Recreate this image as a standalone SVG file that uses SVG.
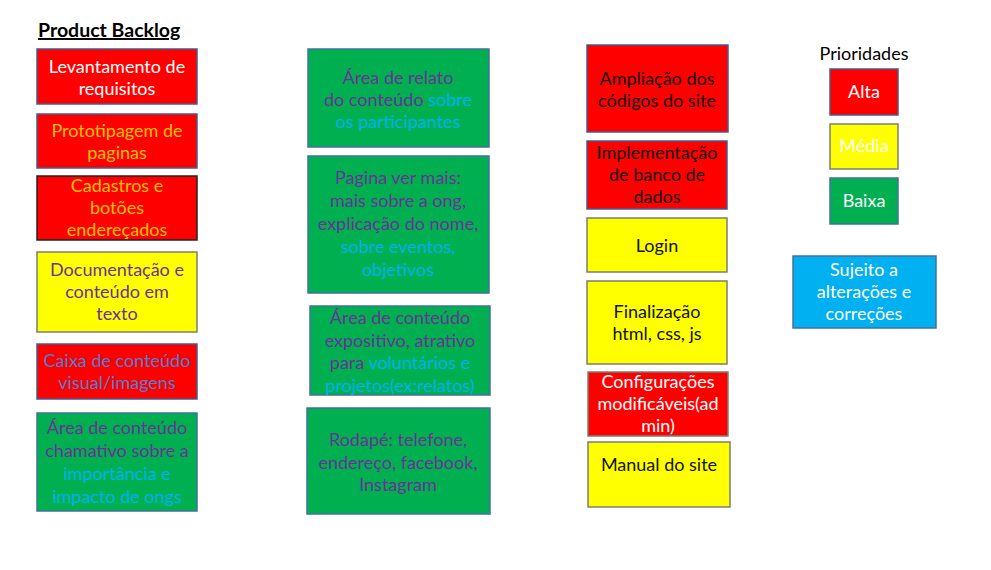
<svg xmlns="http://www.w3.org/2000/svg" width="991" height="570" viewBox="0 0 991 570">
<style>
text{font-family:"Lato","Open Sans","Liberation Sans",sans-serif;font-size:18px;text-anchor:middle}
.r{fill:#FF0000;stroke:#4A5A8A;stroke-width:1.5}
.y{fill:#FFFF00;stroke:#7A7F70;stroke-width:1.5}
.g{fill:#00B050;stroke:#41719C;stroke-width:1.5}
.b{fill:#00B0F0;stroke:#41719C;stroke-width:1.5}
.w{fill:#FFFFFF}.o{fill:#FFC000}.p{fill:#6A3298}.c{fill:#00B0F0}.k{fill:#111111}.bl{fill:#4F7FD0}
</style>
<rect width="991" height="570" fill="#FFFFFF"/>
<text x="38" y="37" style="text-anchor:start;font-weight:bold;font-size:19.5px;text-decoration:underline" fill="#000">Product Backlog</text>

<g id="n1"><rect class="r" x="37" y="49" width="160" height="55"/><text class="w" x="117" y="73">Levantamento de<tspan x="117" dy="22">requisitos</tspan></text></g>
<g id="n2"><rect class="r" x="37" y="114" width="160" height="54"/><text class="o" x="117" y="137">Prototipagem de<tspan x="117" dy="22">paginas</tspan></text></g>
<g id="n3"><rect class="r" x="37" y="176" width="160" height="64" style="stroke:#222"/><text class="o" x="117" y="192">Cadastros e<tspan x="117" dy="22">botões</tspan><tspan x="117" dy="22">endereçados</tspan></text></g>
<g id="n4"><rect class="y" x="37" y="252" width="160" height="80"/><text class="p" x="117" y="276">Documentação e<tspan x="117" dy="22">conteúdo em</tspan><tspan x="117" dy="22">texto</tspan></text></g>
<g id="n5"><rect class="r" x="37" y="344" width="160" height="55"/><text class="bl" x="117" y="367">Caixa de conteúdo<tspan x="117" dy="22">visual/imagens</tspan></text></g>
<g id="n6"><rect class="g" x="37" y="413" width="160" height="98"/><text class="p" x="117" y="434">Área de conteúdo<tspan x="117" dy="23">chamativo sobre a</tspan><tspan x="117" dy="23" class="c">importância e</tspan><tspan x="117" dy="23" class="c">impacto de ongs</tspan></text></g>

<g id="n7"><rect class="g" x="308" y="49" width="181" height="98"/><text class="p" x="398" y="84">Área de relato<tspan x="398" dy="22">do conteúdo <tspan class="c">sobre</tspan></tspan><tspan x="398" dy="22" class="c">os participantes</tspan></text></g>
<g id="n8"><rect class="g" x="308" y="156" width="181" height="137"/><text class="p" x="398" y="184">Pagina ver mais:<tspan x="398" dy="23">mais sobre a ong,</tspan><tspan x="398" dy="23">explicação do nome,</tspan><tspan x="398" dy="23" class="c">sobre eventos,</tspan><tspan x="398" dy="23" class="c">objetivos</tspan></text></g>
<g id="n9"><rect class="g" x="310" y="306" width="180" height="89"/><text class="p" x="400" y="324">Área de conteúdo<tspan x="400" dy="22.5">expositivo, atrativo</tspan><tspan x="400" dy="22.5">para <tspan class="c">voluntários e</tspan></tspan><tspan x="400" dy="22.5" class="c">projetos(ex:relatos)</tspan></text></g>
<g id="n10"><rect class="g" x="307" y="408" width="183" height="106"/><text class="p" x="398" y="446">Rodapé: telefone,<tspan x="398" dy="22.5">endereço, facebook,</tspan><tspan x="398" dy="22.5">Instagram</tspan></text></g>

<g id="n11"><rect class="r" x="587" y="45" width="141" height="87"/><text class="k" x="657" y="85">Ampliação dos<tspan x="657" dy="22">códigos do site</tspan></text></g>
<g id="n12"><rect class="r" x="587" y="141" width="140" height="68"/><text class="k" x="657" y="159">Implementação<tspan x="657" dy="22">de banco de</tspan><tspan x="657" dy="22">dados</tspan></text></g>
<g id="n13"><rect class="y" x="587" y="218" width="140" height="54"/><text class="k" x="657" y="252">Login</text></g>
<g id="n14"><rect class="y" x="587" y="281" width="140" height="83"/><text class="k" x="657" y="318">Finalização<tspan x="657" dy="22">html, css, js</tspan></text></g>
<g id="n15"><rect class="r" x="588" y="372" width="140" height="64" style="stroke:#7A7F70"/><text class="w" x="658" y="388">Configurações<tspan x="658" dy="22">modificáveis(ad</tspan><tspan x="658" dy="22">min)</tspan></text></g>
<g id="n16"><rect class="y" x="588" y="442" width="142" height="65"/><text class="k" x="659" y="471">Manual do site</text></g>

<g id="legend">
<text x="864" y="60" fill="#000">Prioridades</text>
<g id="alta"><rect class="r" x="830" y="69" width="68" height="46"/><text class="w" x="864" y="98">Alta</text></g>
<g id="media"><rect class="y" x="830" y="124" width="68" height="45"/><text class="w" x="864" y="152">Média</text></g>
<g id="baixa"><rect class="g" x="830" y="178" width="68" height="46"/><text class="w" x="864" y="207">Baixa</text></g>
<g id="sujeito"><rect class="b" x="793" y="256" width="143" height="72"/><text class="w" x="864" y="276">Sujeito a<tspan x="864" dy="22">alterações e</tspan><tspan x="864" dy="22">correções</tspan></text></g>
</g>
<g id="connectors"/>
</svg>
